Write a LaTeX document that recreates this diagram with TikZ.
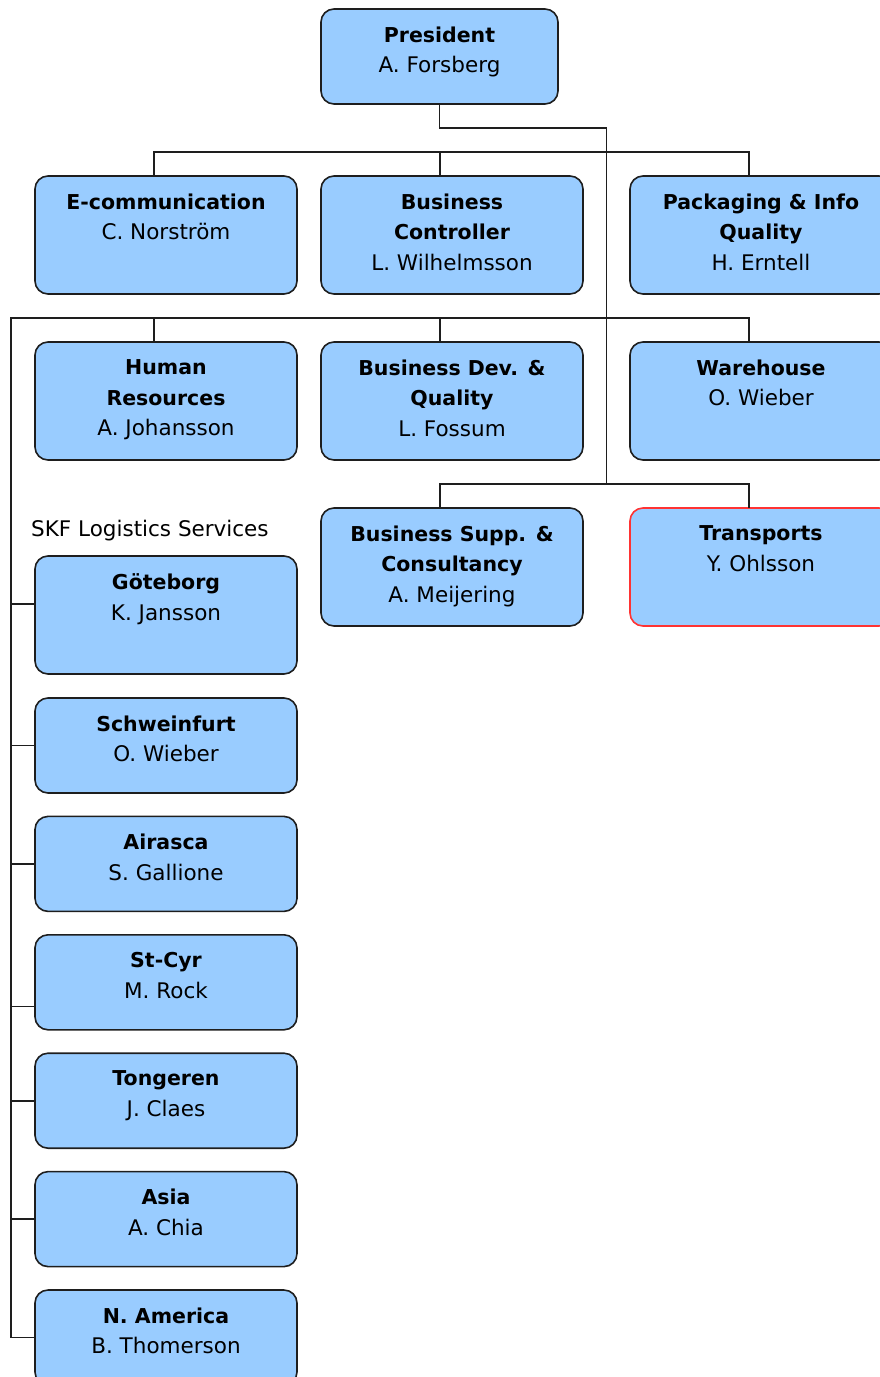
\documentclass[tikz,border=0pt]{standalone}
\usepackage{fontspec}
\setmainfont{DejaVu Sans}
\usepackage{xcolor}
\usetikzlibrary{positioning,calc}

\definecolor{boxblue}{HTML}{99CCFF}
\definecolor{edge}{HTML}{1E1E1E}
\definecolor{alert}{HTML}{FF3333}
\newcommand\titlefont{\fontsize{20.5pt}{30.5pt}\selectfont\bfseries}
\newcommand\who{\mdseries\fontsize{21.5pt}{30.5pt}\selectfont}

\begin{document}
\begin{tikzpicture}[
  node distance=48pt and 24pt,
  box/.style={rectangle, draw=edge, line width=1.6pt, fill=boxblue, rounded corners=13pt, minimum width=262pt, minimum height=118pt, inner sep=0pt, outer sep=0pt},
  short/.style={box, minimum height=95pt},
  title/.style={anchor=north, yshift=-17.5pt, inner sep=0pt, align=center, font=\titlefont},
  group/.style={inner sep=0pt, font=\who},
  link/.style={draw=edge, line width=1.6pt}
]
\useasboundingbox (0,0) rectangle (880pt,-1377pt);

% top and three rows of staff units
\node[short, minimum width=237pt, anchor=north west, label={[title]north:President\\\who A. Forsberg}] (pres) at (321pt,-9pt) {};
\node[box, anchor=north west, label={[title]north:E-communication\\\who C. Norström}] (ecomm) at (35pt,-176pt) {};
\node[box, right=of ecomm, label={[title]north:Business\\Controller\\\who L. Wilhelmsson}] (ctrl) {};
\node[box, right=47pt of ctrl, label={[title]north:Packaging \& Info\\Quality\\\who H. Erntell}] (pack) {};
\node[box, below=of ecomm, label={[title]north:Human\\Resources\\\who A. Johansson}] (hr) {};
\node[box, below=of ctrl, label={[title]north:Business Dev. \&\\Quality\\\who L. Fossum}] (bdev) {};
\node[box, below=of pack, label={[title]north:Warehouse\\\who O. Wieber}] (wh) {};
\node[box, below=of bdev, label={[title]north:Business Supp. \&\\Consultancy\\\who A. Meijering}] (bsupp) {};
\node[box, draw=alert, below=of wh, label={[title]north:Transports\\\who Y. Ohlsson}] (transp) {};

% logistics services column
\node[box, below=96pt of hr, label={[title]north:Göteborg\\\who K. Jansson}] (gbg) {};
\node[group, above right=15pt and -4pt of gbg.north west] (skf) {SKF Logistics Services};
\node[short, below=24pt of gbg, label={[title]north:Schweinfurt\\\who O. Wieber}] (schw) {};
\node[short, below=23.4pt of schw, label={[title]north:Airasca\\\who S. Gallione}] (airasca) {};
\node[short, below=23.4pt of airasca, label={[title]north:St-Cyr\\\who M. Rock}] (stcyr) {};
\node[short, below=23.4pt of stcyr, label={[title]north:Tongeren\\\who J. Claes}] (tongeren) {};
\node[short, below=23.4pt of tongeren, label={[title]north:Asia\\\who A. Chia}] (asia) {};
\node[short, below=23.4pt of asia, label={[title]north:N. America\\\who B. Thomerson}] (namer) {};

\coordinate (spine) at ($(ctrl.east)!0.5!(pack.west)$);
\coordinate (bus3) at ($(bsupp.north)+(0,24pt)$);
\coordinate (rail) at ($(hr.north west)+(-24pt,24pt)$);

% connectors
\draw[link] (pres.south) -- ++(0,-24pt) -| (spine |- bus3);
\draw[link] ([xshift=-12pt]ecomm.north) -- ++(0,24pt) -| ([xshift=-12pt]pack.north);
\draw[link] ([xshift=-12pt]ctrl.north) -- ++(0,24pt);
\draw[link] ([xshift=-12pt]wh.north) |- (rail) |- (namer.west);
\draw[link] ([xshift=-12pt]hr.north) -- ++(0,24pt);
\draw[link] ([xshift=-12pt]bdev.north) -- ++(0,24pt);
\draw[link] ([xshift=-12pt]bsupp.north) -- ++(0,24pt) -| ([xshift=-12pt]transp.north);
\draw[link] ([yshift=11pt]gbg.west) -| (rail);
\draw[link] ([yshift=-24pt]stcyr.west) -| (rail);
\foreach \n in {schw,airasca,tongeren,asia}
  \draw[link] (\n.west) -| (rail);
\end{tikzpicture}
\end{document}
